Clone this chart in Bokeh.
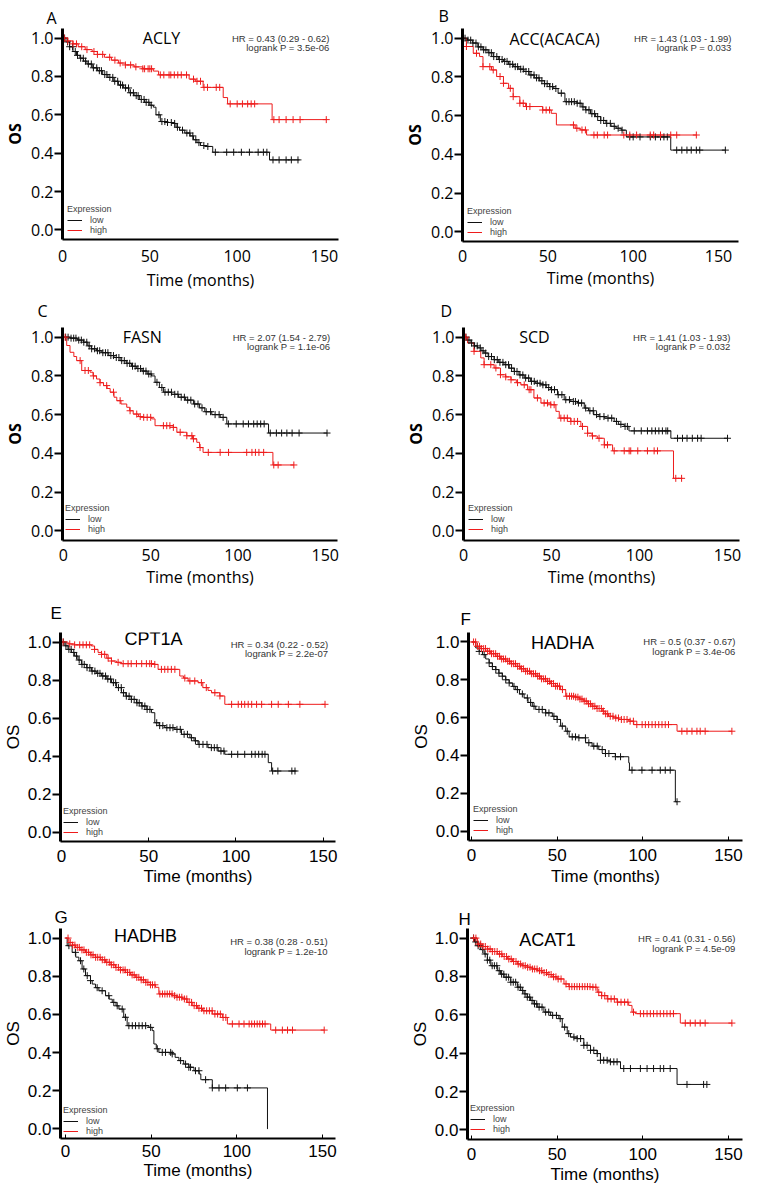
import numpy as np
from bokeh.plotting import figure
from bokeh.models import (ColumnDataSource, Range1d, FixedTicker, NumeralTickFormatter,
                          Label, Legend, LegendItem, Title)
from bokeh.layouts import column, row
from bokeh.embed import file_html
from bokeh.resources import INLINE

# ---------------- data ----------------
A_low_t = [0, 2, 4, 6, 8, 10, 12, 14, 17, 20, 23, 26, 29, 32, 35, 38, 41, 44, 47, 50, 52, 53.5, 56, 60, 63, 65, 67, 70, 73, 75, 77, 79, 82, 86, 118.5, 135.7]
A_low_s = [1.0, 0.98, 0.955, 0.93, 0.91, 0.895, 0.88, 0.865, 0.845, 0.83, 0.81, 0.795, 0.775, 0.755, 0.74, 0.715, 0.7, 0.68, 0.665, 0.65, 0.64, 0.6, 0.565, 0.56, 0.555, 0.535, 0.52, 0.505, 0.49, 0.47, 0.455, 0.44, 0.435, 0.405, 0.365, 0.365]
A_low_cens = [1.2, 2.9, 4.1, 5.8, 7.3, 8.6, 10.4, 11.9, 13.2, 14.8, 16.5, 17.7, 19.6, 21.1, 22.3, 24.2, 25.4, 27.1, 28.8, 29.9, 31.6, 33.2, 34.4, 36.1, 37.8, 38.9, 40.6, 42.2, 43.3, 45.1, 46.7, 47.9, 49.4, 50.8, 55.2, 56.9, 58.6, 60.1, 62.3, 64.2, 65.8, 68.7, 71.2, 72.9, 74.6, 76.3, 78.1, 80.9, 83.2, 87.5, 94, 98, 102.4, 107, 112, 115, 117, 120.5, 124, 128, 131, 134.8]
A_high_t = [0, 3, 6, 9, 13, 17, 20, 24, 28, 32, 36, 41, 46, 52, 55, 72.5, 76, 80.5, 92, 94.5, 120, 151]
A_high_s = [1.0, 0.985, 0.97, 0.955, 0.94, 0.93, 0.915, 0.9, 0.885, 0.87, 0.86, 0.85, 0.84, 0.828, 0.808, 0.786, 0.775, 0.743, 0.69, 0.657, 0.575, 0.575]
A_high_cens = [1, 3, 6, 8, 11, 14, 18, 20, 23, 27, 30, 33, 36, 39, 42, 46, 47, 49, 50, 51, 56, 58, 61, 62, 64, 66, 68, 71, 75, 77, 79, 81, 83, 88, 90, 96, 100, 103, 106, 108, 110, 121, 124, 128, 132, 136, 151]

B_low_t = [0, 3, 6, 9, 12, 15, 18, 21, 24, 27, 30, 33, 36, 39, 42, 45, 48, 51, 53.5, 56, 60, 67, 70, 72, 75, 78, 81, 84, 87, 90, 93, 96, 122, 154]
B_low_s = [1.0, 0.99, 0.975, 0.955, 0.94, 0.925, 0.905, 0.89, 0.88, 0.865, 0.853, 0.84, 0.828, 0.81, 0.795, 0.78, 0.765, 0.75, 0.74, 0.716, 0.672, 0.664, 0.645, 0.63, 0.61, 0.595, 0.575, 0.56, 0.545, 0.535, 0.525, 0.49, 0.422, 0.422]
B_low_cens = [1.5, 3.2, 4.8, 6.1, 7.9, 9.3, 10.8, 12.4, 13.7, 15.5, 16.9, 18.3, 20.1, 21.6, 23.2, 24.7, 26.1, 27.8, 29.4, 30.9, 32.3, 34.1, 35.6, 37.2, 38.8, 40.1, 41.9, 43.4, 44.8, 46.5, 48.1, 49.6, 51.2, 52.8, 54.7, 57.9, 60.8, 62.4, 63.9, 65.5, 67.2, 68.9, 70.6, 72.3, 74.1, 75.8, 77.4, 79.2, 81, 82.7, 84.5, 86.6, 88.9, 91.2, 93.5, 98, 100, 104, 110, 113, 116, 118, 120, 125.5, 128.5, 131.5, 134, 137, 139, 154]
B_high_t = [0, 2.3, 6.3, 10, 12, 17, 20, 24, 27, 29.7, 33.6, 37, 47, 52, 55, 66, 69, 72.7, 137]
B_high_s = [1.0, 0.957, 0.922, 0.905, 0.853, 0.836, 0.802, 0.767, 0.741, 0.698, 0.664, 0.647, 0.629, 0.612, 0.552, 0.535, 0.526, 0.5, 0.5]
B_high_cens = [2.3, 8.2, 12, 16, 18, 22, 24, 28, 29.7, 33.6, 35.6, 37.5, 39.5, 47, 49, 51, 65, 67, 70, 72, 77, 79, 83, 85, 94.5, 98, 102, 110, 112, 116, 122, 125.5, 137]

C_low_t = [0, 4, 8, 11.5, 14, 16, 19, 22, 26, 29, 32.5, 36, 39, 42, 45, 48, 50.5, 52.5, 55, 57.3, 62, 66, 70, 74.5, 78, 81, 85, 89.8, 93.6, 117.5, 151]
C_low_s = [1.0, 0.995, 0.985, 0.974, 0.955, 0.94, 0.93, 0.92, 0.905, 0.895, 0.879, 0.865, 0.85, 0.838, 0.825, 0.81, 0.8, 0.767, 0.74, 0.716, 0.705, 0.69, 0.675, 0.655, 0.635, 0.615, 0.6, 0.586, 0.552, 0.505, 0.505]
C_low_cens = [1.3, 2.7, 4.4, 5.9, 7.2, 8.8, 10.3, 11.7, 13.4, 14.8, 16.2, 17.9, 19.5, 20.8, 22.6, 24.1, 25.5, 27.2, 28.7, 30.3, 31.8, 33.4, 34.9, 36.5, 38, 39.6, 41.1, 42.7, 44.2, 45.8, 47.3, 48.9, 50.2, 53.6, 56.4, 58.2, 60.1, 61.9, 63.8, 65.6, 67.5, 69.3, 71.2, 73, 75.2, 77.1, 79.4, 81.8, 84.3, 86.9, 89.2, 91.5, 94.5, 99, 103, 106, 109, 111, 113, 115, 118.5, 122, 125, 128, 131, 135, 151]
C_high_t = [0, 1.9, 3.8, 6, 7.6, 10.5, 15.3, 17, 19, 21, 23, 25, 26.8, 29, 30.6, 33, 36.3, 38, 40, 43, 46, 50.6, 52.5, 63, 65, 70.7, 74, 76.4, 78, 80, 120, 132]
C_high_s = [1.0, 0.957, 0.922, 0.9, 0.879, 0.828, 0.819, 0.8, 0.784, 0.765, 0.75, 0.735, 0.716, 0.69, 0.672, 0.655, 0.638, 0.62, 0.603, 0.59, 0.586, 0.578, 0.543, 0.534, 0.509, 0.491, 0.475, 0.457, 0.43, 0.405, 0.34, 0.34]
C_high_cens = [1, 9.6, 12.4, 14.3, 17.2, 21, 24.8, 28.7, 32.5, 38.2, 42, 44, 46, 48, 50, 57.3, 59.2, 61, 63, 66.9, 70.7, 73.6, 74.5, 78.3, 83, 89.8, 94.6, 105, 108, 110, 112, 114.7, 120.5, 123, 132]

D_low_t = [0, 2, 4.2, 6, 8, 10, 11.7, 14, 17.4, 20, 23, 26, 28.8, 31.5, 34.5, 38, 41, 44, 47, 49.6, 53.4, 57.2, 61, 64.8, 68.6, 71, 74, 77, 80, 85.6, 88, 91.3, 94, 117.8, 150]
D_low_s = [1.0, 0.985, 0.97, 0.955, 0.945, 0.93, 0.918, 0.9, 0.884, 0.87, 0.858, 0.84, 0.823, 0.805, 0.789, 0.772, 0.762, 0.754, 0.74, 0.729, 0.703, 0.677, 0.668, 0.66, 0.634, 0.62, 0.6, 0.59, 0.582, 0.565, 0.55, 0.539, 0.516, 0.478, 0.478]
D_low_cens = [1.4, 3.1, 4.6, 6.3, 7.8, 9.5, 11.1, 12.6, 14.3, 15.9, 17.5, 19.2, 20.7, 22.4, 24, 25.6, 27.3, 28.9, 30.4, 32.1, 33.7, 35.3, 37, 38.6, 40.2, 41.9, 43.5, 45.1, 46.8, 48.4, 50, 51.7, 53.8, 55.9, 58.1, 60.2, 62.4, 63.6, 65.3, 67.1, 69.4, 71.8, 73.7, 75.6, 77.5, 79.8, 82.1, 84.2, 86.9, 89.4, 91.8, 93.1, 97, 101, 104.5, 107, 109, 111, 113, 115, 116, 121.6, 124.4, 127, 130, 133, 135, 150]
D_high_t = [0, 2.3, 6, 9.8, 11.7, 17.4, 21, 24, 27, 30, 32.6, 36.4, 40, 44, 49.6, 52.5, 54.4, 61, 66.7, 70.5, 73, 76, 80, 84.7, 119.3, 124.4]
D_high_s = [1.0, 0.97, 0.927, 0.893, 0.858, 0.841, 0.806, 0.795, 0.78, 0.765, 0.754, 0.729, 0.686, 0.66, 0.651, 0.617, 0.582, 0.565, 0.539, 0.504, 0.49, 0.478, 0.444, 0.413, 0.271, 0.271]
D_high_cens = [1.3, 6, 11.7, 15.5, 18.4, 21, 24, 27, 30.7, 34.5, 37.3, 38.3, 42, 45.8, 47.7, 49.6, 51.5, 55.3, 57.2, 59, 61, 62.9, 64.8, 67.6, 70.5, 73.3, 77, 80, 81.8, 85.6, 91.3, 94.1, 95, 99, 104.5, 108.3, 110.2, 120.6, 123.9]

E_low_t = [0, 2, 3.8, 5.7, 7.6, 9.5, 11.5, 14.5, 17.2, 20, 23, 26, 28.7, 31.5, 34.4, 37, 40, 43, 46, 49, 51.6, 53.5, 56, 59.2, 65, 68.8, 73.6, 76, 78.3, 84, 89.8, 93.6, 118.5, 120.4, 134.7]
E_low_s = [1.0, 0.98, 0.961, 0.945, 0.926, 0.905, 0.882, 0.865, 0.847, 0.835, 0.821, 0.805, 0.786, 0.76, 0.733, 0.715, 0.698, 0.68, 0.663, 0.645, 0.628, 0.575, 0.56, 0.549, 0.54, 0.514, 0.496, 0.48, 0.461, 0.444, 0.426, 0.409, 0.365, 0.321, 0.321]
E_low_cens = [1.1, 2.6, 4.3, 5.6, 7.1, 8.7, 10.2, 11.8, 13.1, 14.7, 16.3, 17.6, 19.2, 20.8, 22.1, 23.7, 25.3, 26.6, 28.2, 29.8, 31.1, 32.7, 34.3, 35.6, 37.2, 38.8, 40.1, 41.7, 43.3, 44.6, 46.2, 47.8, 49.1, 50.7, 54.6, 56.3, 58.1, 60.4, 62.2, 63.9, 66.2, 68.1, 70.3, 72.2, 74.5, 76.8, 78.9, 81.1, 83.4, 85.9, 87.6, 89.2, 91.4, 93.1, 97.5, 101, 105, 109, 111, 113, 115, 116.6, 121, 124, 132, 133.8]
E_high_t = [0, 3.8, 7.6, 17.2, 19, 21, 23, 26, 28.7, 31.5, 34.4, 53.5, 55.4, 67.8, 70, 72.6, 78.3, 81, 84, 86, 90.8, 93.6, 151]
E_high_s = [1.0, 0.99, 0.985, 0.979, 0.961, 0.945, 0.935, 0.915, 0.9, 0.893, 0.886, 0.882, 0.856, 0.821, 0.81, 0.795, 0.786, 0.76, 0.745, 0.733, 0.716, 0.672, 0.672]
E_high_cens = [1, 4.8, 7.6, 10.5, 12.4, 14.3, 16.2, 19, 23, 24.8, 26.8, 28.7, 32.5, 35.4, 38.2, 40, 43, 46, 48.7, 50.6, 51.6, 53.5, 57.3, 59.2, 61, 63, 65, 70.7, 73.6, 76.4, 80.2, 83, 87.9, 90.8, 97.5, 101.3, 103.2, 105, 107, 109, 111.8, 114.7, 120.4, 124.2, 130, 136.6, 151]

F_low_t = [0, 2.5, 4.5, 6.4, 8.3, 10.3, 12.2, 14.2, 16, 18, 20, 22, 24, 25.8, 28, 30.7, 33, 35.5, 37.5, 43.3, 47.2, 50, 52, 55, 57, 62.7, 66.6, 70.4, 74.3, 78.2, 84, 91.8, 92.2, 119, 120]
F_low_s = [1.0, 0.968, 0.95, 0.933, 0.91, 0.889, 0.87, 0.854, 0.835, 0.819, 0.8, 0.783, 0.765, 0.748, 0.725, 0.704, 0.68, 0.66, 0.643, 0.625, 0.607, 0.59, 0.555, 0.528, 0.498, 0.493, 0.467, 0.449, 0.431, 0.41, 0.393, 0.361, 0.322, 0.155, 0.155]
F_low_cens = [4.5, 7.4, 10.3, 12.2, 14.2, 16, 18, 20, 22, 24.8, 26.8, 29.7, 32.6, 34.5, 36.5, 39.4, 41.3, 43.3, 45.2, 48.1, 50, 53, 55.9, 58.8, 60.7, 62.7, 66.5, 68.5, 71.4, 73.4, 76.3, 78.2, 80.2, 84, 87, 93.7, 99.5, 105.4, 110.2, 113.1, 116, 120]
F_high_t = [0, 2.5, 5, 8.3, 11, 14.2, 17, 20, 23, 25.8, 28.5, 31.6, 34.5, 37.5, 40.5, 43.3, 46, 49, 52, 55, 60.7, 63, 65.6, 68, 70.4, 73, 76.3, 78, 80, 83, 86, 91.8, 94.7, 120, 152]
F_high_s = [1.0, 0.977, 0.965, 0.951, 0.938, 0.924, 0.91, 0.898, 0.885, 0.871, 0.858, 0.845, 0.832, 0.819, 0.805, 0.792, 0.78, 0.766, 0.748, 0.713, 0.708, 0.698, 0.687, 0.673, 0.66, 0.648, 0.634, 0.62, 0.607, 0.598, 0.59, 0.581, 0.563, 0.528, 0.528]
F_high_cens = [1.2, 2.4, 3.5, 4.7, 5.8, 7.1, 8.2, 9.4, 10.6, 11.7, 12.9, 14.1, 15.2, 16.4, 17.6, 18.7, 19.9, 21.1, 22.2, 23.4, 24.6, 25.7, 26.9, 28.1, 29.2, 30.4, 31.6, 32.7, 33.9, 35.1, 36.2, 37.4, 38.6, 39.7, 40.9, 42.1, 43.2, 44.4, 45.6, 46.7, 47.9, 49.1, 50.2, 51.4, 53.1, 55.6, 57.2, 58.4, 59.6, 60.8, 62.1, 63.3, 64.5, 65.8, 67, 68.3, 69.5, 70.8, 72, 73.3, 74.5, 75.8, 77, 78.3, 79.5, 81, 82.6, 84.2, 85.8, 87.5, 89.1, 90.8, 92.6, 94.5, 96.5, 99.6, 101.5, 103.4, 105.4, 107.3, 109.3, 111.2, 113.1, 115, 122.8, 125.8, 128.7, 131.6, 133.5, 136.4, 152]

G_low_t = [0, 1, 3.9, 6, 7.8, 9.7, 11.7, 14.6, 15.6, 17.5, 19.5, 23.4, 25.5, 27.3, 29.5, 31.2, 34, 36, 48.7, 50.6, 51.6, 53, 54.5, 62.3, 64, 66.2, 69, 72, 75, 78, 79, 85.7, 117.9, 118]
G_low_s = [1.0, 0.96, 0.925, 0.9, 0.881, 0.838, 0.803, 0.777, 0.759, 0.74, 0.724, 0.698, 0.68, 0.663, 0.645, 0.628, 0.585, 0.541, 0.532, 0.515, 0.445, 0.42, 0.401, 0.393, 0.375, 0.358, 0.34, 0.323, 0.305, 0.288, 0.258, 0.215, 0.0, 0.0]
G_low_cens = [2, 5.8, 8.8, 10.7, 12.7, 14.6, 18.5, 21.4, 25.3, 28.2, 30.2, 33.1, 35, 37, 39, 40.9, 42.9, 44.8, 46.8, 49.7, 53.6, 56.5, 58.4, 61.4, 62.3, 67.2, 70.1, 72, 73, 75.9, 77.9, 81.8, 85.7, 89.6, 93.5, 100.3, 106.2]
G_high_t = [0, 2, 4, 5.8, 8.5, 11.7, 14.5, 17.5, 20.5, 23.4, 26.5, 29.2, 32, 35, 38, 41, 44, 46.8, 49.5, 52.6, 54.5, 62.3, 65, 68.2, 71, 74, 77, 80, 85.7, 91.6, 94.5, 119.8, 151]
G_high_s = [1.0, 0.977, 0.963, 0.951, 0.938, 0.925, 0.912, 0.899, 0.886, 0.873, 0.86, 0.846, 0.833, 0.82, 0.807, 0.794, 0.781, 0.768, 0.755, 0.742, 0.707, 0.698, 0.69, 0.681, 0.663, 0.646, 0.632, 0.619, 0.602, 0.584, 0.55, 0.518, 0.518]
G_high_cens = [1.5, 2.8, 4.2, 5.5, 6.9, 8.1, 9.6, 10.8, 12.2, 13.5, 14.9, 16.1, 17.6, 18.8, 20.2, 21.5, 22.9, 24.1, 25.6, 26.8, 28.2, 29.5, 30.9, 32.1, 33.6, 34.8, 36.2, 37.5, 38.9, 40.1, 41.6, 42.8, 44.2, 45.5, 46.9, 48.1, 49.6, 50.8, 52.2, 55.1, 56.6, 58, 59.4, 60.8, 62.2, 63.7, 65.1, 66.5, 67.9, 69.4, 70.8, 72.2, 73.6, 75.1, 76.5, 77.9, 79.4, 80.8, 82.4, 84, 85.6, 87.2, 88.8, 90.4, 92, 93.6, 97.4, 101.3, 104.2, 107.2, 108.7, 110.3, 111.9, 113.4, 115, 116.5, 122.7, 126.6, 129.6, 132.5, 151]

H_low_t = [0, 1.8, 3.5, 5.5, 7.4, 9.3, 11.3, 15.1, 17, 19, 22.9, 26.8, 28.8, 30.7, 32.6, 34.5, 36.5, 38.4, 42.3, 46.2, 51, 53, 55.9, 57.8, 61.7, 65.6, 69.5, 73.4, 75.3, 81, 87, 120, 137.4]
H_low_s = [1.0, 0.98, 0.96, 0.94, 0.917, 0.885, 0.856, 0.83, 0.812, 0.796, 0.77, 0.744, 0.727, 0.709, 0.692, 0.675, 0.657, 0.64, 0.614, 0.597, 0.58, 0.536, 0.502, 0.484, 0.476, 0.441, 0.415, 0.398, 0.363, 0.355, 0.32, 0.237, 0.237]
H_low_cens = [1.2, 2.5, 3.9, 5.1, 6.6, 8, 9.3, 10.7, 12.1, 13.4, 14.8, 16.2, 17.6, 18.9, 20.3, 21.7, 23, 24.4, 25.8, 27.2, 28.5, 29.9, 31.3, 32.6, 34, 35.4, 36.8, 38.1, 39.5, 41.2, 43.3, 45.1, 47.4, 49.6, 51.8, 54.4, 56.8, 59.8, 61.7, 63.7, 65.6, 67.5, 69.5, 71.4, 73.4, 75.3, 77.2, 79.2, 81.1, 83.1, 85, 88.9, 92.8, 98.6, 102.5, 106.3, 110.2, 112.2, 116, 125.8, 135.5, 137.4]
H_high_t = [0, 3.5, 6.4, 9.3, 12.2, 15.1, 18, 21, 24, 26.8, 29.7, 32.6, 35.5, 38.4, 41.3, 44.2, 47, 50, 54, 56.9, 69.5, 73.4, 76, 79.2, 85, 91.8, 93.7, 95.7, 121.9, 152]
H_high_s = [1.0, 0.969, 0.956, 0.943, 0.93, 0.917, 0.904, 0.891, 0.878, 0.865, 0.856, 0.848, 0.839, 0.83, 0.82, 0.81, 0.798, 0.787, 0.761, 0.747, 0.744, 0.718, 0.7, 0.683, 0.666, 0.649, 0.614, 0.606, 0.557, 0.557]
H_high_cens = [1.3, 2.6, 4, 5.4, 6.7, 8.1, 9.5, 10.9, 12.2, 13.6, 15, 16.4, 17.7, 19.1, 20.5, 21.8, 23.2, 24.6, 26, 27.3, 28.7, 30.1, 31.4, 32.8, 34.2, 35.6, 36.9, 38.3, 39.7, 41, 42.4, 43.8, 45.2, 46.5, 47.9, 49.3, 50.6, 52.3, 55.2, 57.1, 58.6, 60.1, 61.6, 63.1, 64.7, 66.2, 67.7, 69.2, 70.9, 72.6, 74.3, 76, 77.8, 79.6, 81.5, 83.4, 85.3, 87.3, 89.4, 91.3, 94.6, 98.6, 100.5, 102.5, 104.4, 106.3, 108.3, 110.2, 112.2, 114.1, 116, 117.9, 124.8, 127.7, 130.6, 133.5, 136.4, 152]

panel_letters = ["A", "B", "C", "D", "E", "F", "G", "H"]
genes = ["ACLY", "ACC(ACACA)", "FASN", "SCD", "CPT1A", "HADHA", "HADHB", "ACAT1"]
hr_texts = ["HR = 0.43 (0.29 - 0.62)", "HR = 1.43 (1.03 - 1.99)", "HR = 2.07 (1.54 - 2.79)",
            "HR = 1.41 (1.03 - 1.93)", "HR = 0.34 (0.22 - 0.52)", "HR = 0.5 (0.37 - 0.67)",
            "HR = 0.38 (0.28 - 0.51)", "HR = 0.41 (0.31 - 0.56)"]
p_texts = ["logrank P = 3.5e-06", "logrank P = 0.033", "logrank P = 1.1e-06", "logrank P = 0.032",
           "logrank P = 2.2e-07", "logrank P = 3.4e-06", "logrank P = 1.2e-10", "logrank P = 4.5e-09"]
y_ticks = [0.0, 0.2, 0.4, 0.6, 0.8, 1.0]
x_ticks = [0, 50, 100, 150]
legend_title = "Expression"
group_labels = ["low", "high"]

curves = {
    "A": (A_low_t, A_low_s, A_low_cens, A_high_t, A_high_s, A_high_cens),
    "B": (B_low_t, B_low_s, B_low_cens, B_high_t, B_high_s, B_high_cens),
    "C": (C_low_t, C_low_s, C_low_cens, C_high_t, C_high_s, C_high_cens),
    "D": (D_low_t, D_low_s, D_low_cens, D_high_t, D_high_s, D_high_cens),
    "E": (E_low_t, E_low_s, E_low_cens, E_high_t, E_high_s, E_high_cens),
    "F": (F_low_t, F_low_s, F_low_cens, F_high_t, F_high_s, F_high_cens),
    "G": (G_low_t, G_low_s, G_low_cens, G_high_t, G_high_s, G_high_cens),
    "H": (H_low_t, H_low_s, H_low_cens, H_high_t, H_high_s, H_high_cens),
}

# ---------------- layout / style ----------------
LOW_COLOR = "#111111"
HIGH_COLOR = "#ee1c1c"

# fw/fh: frame size; b: min borders (l, r, t, b); tl: title (offset px, standoff px); xs: x label standoffs
geom = {
    "A": dict(fw=276, fh=211, b=(58, 34, 20, 56), xr=(0, 158), tl=(-16, 0), gene=(56.7, 1.0), hrx=152.8, hry=(1.0, 0.95), leg=(5, 4), sty=0, xs=(10, 4)),
    "B": dict(fw=276, fh=213, b=(90, 7, 24, 50), xr=(0, 161.7), tl=(-24, 4), gene=(53.9, 0.995), hrx=157.6, hry=(1.0, 0.95), leg=(5, 4), sty=0, xs=(8, 2)),
    "C": dict(fw=275, fh=213, b=(57, 36, 32, 50), xr=(-0.5, 157), tl=(-25, 12), gene=(45.2, 1.0), hrx=152.8, hry=(1.0, 0.95), leg=(3, 6), sty=0, xs=(8, 2)),
    "D": dict(fw=276, fh=213, b=(90, 7, 32, 50), xr=(0, 156.8), tl=(-23, 12), gene=(40.3, 1.0), hrx=151.7, hry=(1.0, 0.95), leg=(5, 6), sty=0, xs=(8, 2)),
    "E": dict(fw=275, fh=209, b=(57, 36, 42, 50), xr=(-0.5, 157), tl=(-10, 20), gene=(52.7, 1.016), hrx=152.8, hry=(0.989, 0.937), leg=(3, 4), sty=1, xs=(8, 2)),
    "F": dict(fw=274, fh=208, b=(97, 2, 35, 58), xr=(-1.75, 158.2), tl=(-8, 8), gene=(53.1, 0.995), hrx=154.1, hry=(1.0, 0.947), leg=(5, 5), sty=1, xs=(8, 3)),
    "G": dict(fw=275, fh=210, b=(57, 36, 37, 47), xr=(-2.9, 157.6), tl=(-6, 4), gene=(46.7, 1.01), hrx=153, hry=(0.984, 0.932), leg=(3, 2), sty=1, xs=(6, 1)),
    "H": dict(fw=275, fh=211, b=(96, 2, 33, 50), xr=(-2.3, 158.2), tl=(-9, 0), gene=(44.4, 0.99), hrx=154.1, hry=(1.0, 0.948), leg=(3, 5), sty=1, xs=(8, 2)),
}

styles = [
    dict(font="Open Sans", tick_size="16px", lab_size="16px", lab_style="bold", gene_size="16px", letter_size="16px", xtick_in=0),
    dict(font="Liberation Sans", tick_size="17px", lab_size="17px", lab_style="normal", gene_size="18px", letter_size="17px", xtick_in=4),
]


def surv_at(t_steps, s_steps, times):
    idx = np.searchsorted(np.asarray(t_steps, dtype=float), np.asarray(times, dtype=float), side="right") - 1
    idx = np.clip(idx, 0, len(s_steps) - 1)
    return np.asarray(s_steps, dtype=float)[idx]


def make_panel(i):
    key = panel_letters[i]
    g = geom[key]
    st = styles[g["sty"]]
    lo_t, lo_s, lo_c, hi_t, hi_s, hi_c = curves[key]
    bl, br, bt, bb = g["b"]
    title = Title(text=key, align="left", offset=g["tl"][0], standoff=g["tl"][1],
                  text_font=st["font"], text_font_size=st["letter_size"], text_font_style="normal",
                  text_color="black")
    p = figure(frame_width=g["fw"], frame_height=g["fh"], output_backend="svg", toolbar_location=None,
               title=title, x_range=Range1d(*g["xr"]), y_range=Range1d(-0.05, 1.05),
               min_border_left=bl, min_border_right=br, min_border_top=bt, min_border_bottom=bb,
               background_fill_color="white", border_fill_color="white")
    p.outline_line_color = None
    p.grid.visible = False

    p.yaxis.ticker = FixedTicker(ticks=y_ticks)
    p.yaxis.formatter = NumeralTickFormatter(format="0.0")
    p.yaxis.axis_line_width = 3
    p.yaxis.axis_line_color = "black"
    p.yaxis.major_tick_line_width = 2
    p.yaxis.major_tick_line_color = "black"
    p.yaxis.major_tick_out = 8
    p.yaxis.major_tick_in = 0
    p.yaxis.minor_tick_line_color = None
    p.yaxis.major_label_standoff = 1
    p.yaxis.axis_label = "OS"
    p.yaxis.axis_label_standoff = 2

    p.xaxis.ticker = FixedTicker(ticks=x_ticks)
    p.xaxis.axis_line_width = 2
    p.xaxis.axis_line_color = "black"
    if st["xtick_in"] > 0:
        p.xaxis.major_tick_line_color = "black"
        p.xaxis.major_tick_line_width = 1
    else:
        p.xaxis.major_tick_line_color = None
    p.xaxis.major_tick_out = 0
    p.xaxis.major_tick_in = st["xtick_in"]
    p.xaxis.minor_tick_line_color = None
    p.xaxis.major_label_standoff = g["xs"][0]
    p.xaxis.axis_label = "Time (months)"
    p.xaxis.axis_label_standoff = g["xs"][1]

    for ax in (p.xaxis[0], p.yaxis[0]):
        ax.major_label_text_font = st["font"]
        ax.major_label_text_font_size = st["tick_size"]
        ax.major_label_text_color = "black"
        ax.axis_label_text_font = st["font"]
        ax.axis_label_text_font_size = st["lab_size"]
        ax.axis_label_text_color = "black"
    p.xaxis.axis_label_text_font_style = "normal"
    p.yaxis.axis_label_text_font_style = st["lab_style"]

    src_lo = ColumnDataSource(dict(t=lo_t, s=lo_s))
    src_hi = ColumnDataSource(dict(t=hi_t, s=hi_s))
    r_lo = p.step(x="t", y="s", source=src_lo, mode="after", line_color=LOW_COLOR, line_width=1)
    r_hi = p.step(x="t", y="s", source=src_hi, mode="after", line_color=HIGH_COLOR, line_width=1)
    c_lo = ColumnDataSource(dict(t=lo_c, s=surv_at(lo_t, lo_s, lo_c)))
    c_hi = ColumnDataSource(dict(t=hi_c, s=surv_at(hi_t, hi_s, hi_c)))
    p.scatter(x="t", y="s", source=c_lo, marker="cross", size=7, line_color=LOW_COLOR, line_width=1)
    p.scatter(x="t", y="s", source=c_hi, marker="cross", size=7, line_color=HIGH_COLOR, line_width=1)

    p.add_layout(Label(x=g["gene"][0], y=g["gene"][1], text=genes[i], text_align="center", text_baseline="middle",
                       text_font=st["font"], text_font_size=st["gene_size"], text_color="black"))
    p.add_layout(Label(x=g["hrx"], y=g["hry"][0], text=hr_texts[i], text_align="right", text_baseline="middle",
                       text_font="Liberation Sans", text_font_size="9.5px", text_color="#333333"))
    p.add_layout(Label(x=g["hrx"], y=g["hry"][1], text=p_texts[i], text_align="right", text_baseline="middle",
                       text_font="Liberation Sans", text_font_size="9.5px", text_color="#333333"))

    leg = Legend(items=[LegendItem(label=group_labels[0], renderers=[r_lo]),
                        LegendItem(label=group_labels[1], renderers=[r_hi])],
                 location=g["leg"], title=legend_title,
                 title_text_font="Liberation Sans", title_text_font_size="9px", title_text_font_style="normal",
                 title_text_color="#444444", title_standoff=1,
                 label_text_font="Liberation Sans", label_text_font_size="9px", label_text_color="#444444",
                 glyph_width=15, glyph_height=10, label_height=10, label_standoff=8,
                 spacing=0, padding=0, margin=0, border_line_color=None, background_fill_alpha=0)
    p.add_layout(leg)
    return p


panels = [make_panel(i) for i in range(8)]
layout = column(row(panels[0], panels[1]), row(panels[2], panels[3]),
                row(panels[4], panels[5]), row(panels[6], panels[7]))

open("out.html", "w").write(file_html(layout, INLINE))
